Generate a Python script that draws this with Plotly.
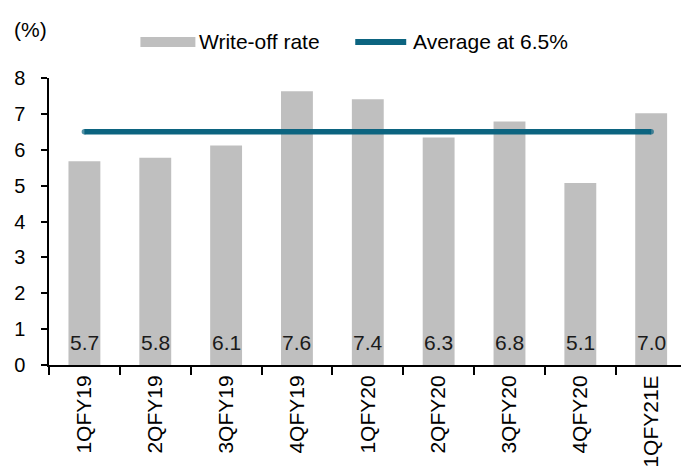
import plotly.graph_objects as go

# ---- data ----
categories = ["1QFY19", "2QFY19", "3QFY19", "4QFY19", "1QFY20",
              "2QFY20", "3QFY20", "4QFY20", "1QFY21E"]
write_off_rate = [5.68, 5.78, 6.12, 7.63, 7.41, 6.34, 6.79, 5.07, 7.02]
average_line = [6.5, 6.5, 6.5, 6.5, 6.5, 6.5, 6.5, 6.5, 6.5]
y_ticks = [0, 1, 2, 3, 4, 5, 6, 7, 8]
legend_labels = ["Write-off rate", "Average at 6.5%"]
unit_label = "(%)"

W, H = 681, 470
ML, MR, MT, MB = 48.5, 0, 78, 105
FONT = "Liberation Sans, Arial, sans-serif"
BAR_COLOR = "#bfbfbf"
LINE_COLOR = "#0c6480"

plot_w = W - ML - MR
plot_h = H - MT - MB
cat_px = 70.9
x_range = [-0.5, -0.5 + plot_w / cat_px]


def px_x(px):
    return (px - ML) / plot_w


def px_y(py):
    return (H - MB - py) / plot_h


fig = go.Figure()
fig.add_trace(go.Bar(
    x=categories, y=write_off_rate, name=legend_labels[0],
    marker=dict(color=BAR_COLOR, line=dict(width=0)),
    showlegend=False, hoverinfo="x+y",
))
n = len(categories)
fig.add_trace(go.Scatter(
    x=categories, y=average_line, name=legend_labels[1],
    mode="lines+markers",
    line=dict(color=LINE_COLOR, width=5.5),
    marker=dict(color=LINE_COLOR, size=[5.5] + [0] * (n - 2) + [5.5],
                line=dict(width=0)),
    showlegend=False, cliponaxis=False,
))

annotations = []
for c, v in zip(categories, write_off_rate):
    annotations.append(dict(
        x=c, y=0, xref="x", yref="y", text=f"{v:.1f}", showarrow=False,
        yanchor="bottom", yshift=9,
        font=dict(family=FONT, size=21, color="#1a1a1a"),
    ))

# unit label
annotations.append(dict(
    x=px_x(11), y=px_y(29), xref="paper", yref="paper", text=unit_label,
    showarrow=False, xanchor="left", yanchor="middle",
    font=dict(family=FONT, size=21, color="#000"),
))
# custom legend
annotations.append(dict(
    x=px_x(197), y=px_y(42), xref="paper", yref="paper", text=legend_labels[0],
    showarrow=False, xanchor="left", yanchor="middle",
    font=dict(family=FONT, size=21, color="#000"),
))
annotations.append(dict(
    x=px_x(411), y=px_y(42), xref="paper", yref="paper", text=legend_labels[1],
    showarrow=False, xanchor="left", yanchor="middle",
    font=dict(family=FONT, size=21, color="#000"),
))
shapes = [
    dict(type="rect", xref="paper", yref="paper",
         x0=px_x(140), x1=px_x(195), y0=px_y(47), y1=px_y(37),
         fillcolor=BAR_COLOR, line=dict(width=0)),
    dict(type="line", xref="paper", yref="paper",
         x0=px_x(355), x1=px_x(406), y0=px_y(42), y1=px_y(42),
         line=dict(color=LINE_COLOR, width=6)),
]

fig.update_layout(
    width=W, height=H,
    margin=dict(l=ML, r=MR, t=MT, b=MB, pad=0),
    paper_bgcolor="white", plot_bgcolor="white",
    font=dict(family=FONT, size=20, color="#000"),
    bargap=0.55,
    showlegend=False,
    annotations=annotations,
    shapes=shapes,
)
fig.update_xaxes(
    type="category", range=x_range,
    showline=True, linecolor="#000", linewidth=2,
    ticks="outside", tickson="boundaries", ticklen=8, tickwidth=1.5,
    tickcolor="#000", tickangle=-90, showgrid=False, zeroline=False,
    tickfont=dict(family=FONT, size=21, color="#000"),
)
fig.update_yaxes(
    range=[0, 8], tickvals=y_ticks,
    showline=True, linecolor="#000", linewidth=1.5,
    ticks="outside", ticklen=6, tickwidth=1.5, tickcolor="#000",
    showgrid=False, zeroline=False,
    tickfont=dict(family=FONT, size=20, color="#000"),
    ticklabelstandoff=12,
)

fig.write_html("out.html")
